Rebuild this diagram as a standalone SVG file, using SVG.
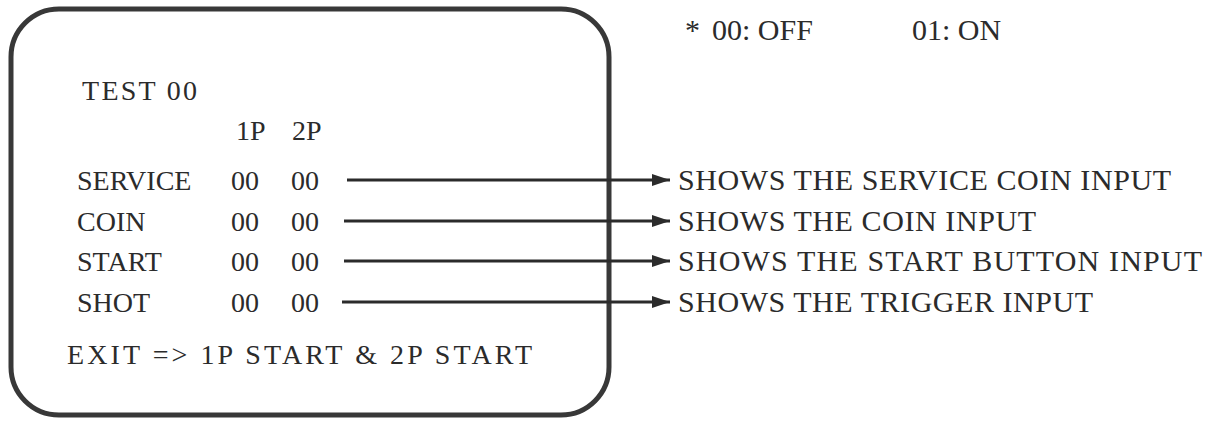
<svg xmlns="http://www.w3.org/2000/svg" width="1218" height="421" viewBox="0 0 1218 421">
<style>
text{font-family:"Liberation Serif","Times New Roman",serif;fill:#2b2b2b;font-size:28px}
.r{font-size:30px}
.c{stroke:#2b2b2b;stroke-width:3;fill:none}
</style>
<defs>
<marker id="ah" viewBox="0 0 18 12" refX="18" refY="6" markerWidth="18" markerHeight="12" markerUnits="userSpaceOnUse" orient="auto">
<path d="M0,0 L18,6 L0,12 Z" fill="#2b2b2b"/>
</marker>
</defs>
<rect width="1218" height="421" fill="#fff"/>
<g id="screen">
<rect x="11" y="9" width="598" height="406" rx="48" ry="48" fill="none" stroke="#383838" stroke-width="5"/>
<text x="82" y="100" textLength="115">TEST 00</text>
<text x="236" y="140">1P</text>
<text x="292" y="140">2P</text>
<text x="77" y="190">SERVICE</text>
<text x="231" y="190">00</text>
<text x="291" y="190">00</text>
<text x="77" y="231">COIN</text>
<text x="231" y="231">00</text>
<text x="291" y="231">00</text>
<text x="77" y="271">START</text>
<text x="231" y="271">00</text>
<text x="291" y="271">00</text>
<text x="77" y="312">SHOT</text>
<text x="231" y="312">00</text>
<text x="291" y="312">00</text>
<text x="67" y="364" textLength="465">EXIT =&gt; 1P START &amp; 2P START</text>
</g>
<g id="legend">
<text class="r" x="685" y="40">*</text>
<text class="r" x="712" y="40">00: OFF</text>
<text class="r" x="912" y="40">01: ON</text>
</g>
<g id="connectors">
<line class="c" x1="347" y1="180" x2="670" y2="180" marker-end="url(#ah)"/>
<line class="c" x1="344" y1="221" x2="670" y2="221" marker-end="url(#ah)"/>
<line class="c" x1="344" y1="261" x2="670" y2="261" marker-end="url(#ah)"/>
<line class="c" x1="342" y1="302" x2="670" y2="302" marker-end="url(#ah)"/>
</g>
<g id="desc-service"><text class="r" x="678" y="190" textLength="493">SHOWS THE SERVICE COIN INPUT</text></g>
<g id="desc-coin"><text class="r" x="678" y="231" textLength="358">SHOWS THE COIN INPUT</text></g>
<g id="desc-start"><text class="r" x="678" y="271" textLength="524">SHOWS THE START BUTTON INPUT</text></g>
<g id="desc-shot"><text class="r" x="678" y="312" textLength="415">SHOWS THE TRIGGER INPUT</text></g>
</svg>
